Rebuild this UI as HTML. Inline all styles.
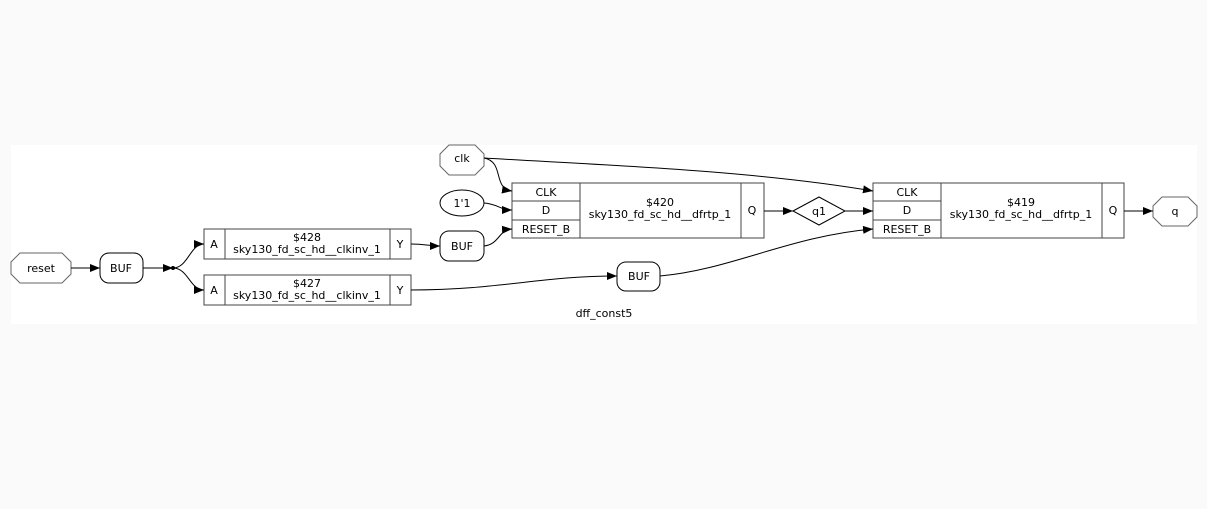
<!DOCTYPE html>
<html><head><style>
html,body{margin:0;padding:0;background:#fafafa;}
svg{display:block;font-family:"DejaVu Sans","Liberation Sans",sans-serif;}
text{font-size:11px;fill:#000;text-anchor:middle;}
</style></head><body>
<svg width="1207" height="509" viewBox="0 0 1207 509">
<defs><marker id="a" markerWidth="10" markerHeight="8" refX="10" refY="4" orient="auto" markerUnits="userSpaceOnUse"><path d="M0,0 L10,4 L0,8 z" fill="#000"/></marker></defs>
<rect x="11" y="145" width="1186" height="179" fill="#fff"/>
<g fill="none" stroke="#000" stroke-width="1">
<!-- reset octagon -->
<polygon points="20,253 62,253 71,262 71,274 62,283 20,283 11,274 11,262" stroke="#666"/>
<rect x="100" y="253" width="43" height="30" rx="9"/>
<!-- 428 -->
<rect x="204" y="229" width="207" height="30" stroke="#444"/>
<line x1="225" y1="229" x2="225" y2="259" stroke="#444"/>
<line x1="390" y1="229" x2="390" y2="259" stroke="#444"/>
<rect x="204" y="275" width="207" height="30" stroke="#444"/>
<line x1="225" y1="275" x2="225" y2="305" stroke="#444"/>
<line x1="390" y1="275" x2="390" y2="305" stroke="#444"/>
<rect x="440" y="231" width="44" height="30" rx="9"/>
<polygon points="449,145 475,145 484,154 484,166 475,175 449,175 440,166 440,154" stroke="#666"/>
<ellipse cx="462" cy="203" rx="22" ry="13"/>
<!-- 420 -->
<rect x="512" y="183" width="252" height="55" stroke="#444"/>
<line x1="580" y1="183" x2="580" y2="238" stroke="#444"/>
<line x1="741" y1="183" x2="741" y2="238" stroke="#444"/>
<line x1="512" y1="201" x2="580" y2="201" stroke="#444"/>
<line x1="512" y1="220" x2="580" y2="220" stroke="#444"/>
<polygon points="793,211 819,197 845,211 819,225"/>
<rect x="617" y="262" width="43" height="29" rx="9"/>
<!-- 419 -->
<rect x="873" y="183" width="251" height="55" stroke="#444"/>
<line x1="941" y1="183" x2="941" y2="238" stroke="#444"/>
<line x1="1102" y1="183" x2="1102" y2="238" stroke="#444"/>
<line x1="873" y1="201" x2="941" y2="201" stroke="#444"/>
<line x1="873" y1="220" x2="941" y2="220" stroke="#444"/>
<polygon points="1162,197 1188,197 1197,206 1197,217 1188,226 1162,226 1153,217 1153,206" stroke="#666"/>
<!-- edges -->
<path d="M71,268 L100,268" marker-end="url(#a)"/>
<path d="M143,268 L173,268" marker-end="url(#a)"/>
<path d="M173,268 C188,268 190,244 204,244" marker-end="url(#a)"/>
<path d="M173,268 C188,268 190,290 204,290" marker-end="url(#a)"/>
<path d="M411,244 C425,244 428,246 440,246" marker-end="url(#a)"/>
<path d="M411,290 C500,290 540,276 617,276" marker-end="url(#a)"/>
<path d="M484,158 C505,162 492,188 512,191" marker-end="url(#a)"/>
<path d="M484,203 C498,204 500,210 512,210" marker-end="url(#a)"/>
<path d="M484,246 C500,244 498,230 512,229" marker-end="url(#a)"/>
<path d="M484,158 C600,165 750,170 873,191" marker-end="url(#a)"/>
<path d="M764,211 L793,211" marker-end="url(#a)"/>
<path d="M845,211 L873,211" marker-end="url(#a)"/>
<path d="M660,276 C730,270 790,236 873,229" marker-end="url(#a)"/>
<path d="M1124,211 L1153,211" marker-end="url(#a)"/>
</g>
<circle cx="173" cy="268" r="2" fill="#000"/>
<text x="41" y="272">reset</text>
<text x="121" y="272">BUF</text>
<text x="214" y="248">A</text>
<text x="307" y="241">$428</text>
<text x="307" y="253">sky130_fd_sc_hd__clkinv_1</text>
<text x="400" y="248">Y</text>
<text x="214" y="294">A</text>
<text x="307" y="287">$427</text>
<text x="307" y="299">sky130_fd_sc_hd__clkinv_1</text>
<text x="400" y="294">Y</text>
<text x="462" y="250">BUF</text>
<text x="462" y="162">clk</text>
<text x="462" y="207">1'1</text>
<text x="546" y="196">CLK</text>
<text x="546" y="214">D</text>
<text x="546" y="233">RESET_B</text>
<text x="660" y="206">$420</text>
<text x="660" y="218">sky130_fd_sc_hd__dfrtp_1</text>
<text x="752" y="214">Q</text>
<text x="819" y="215">q1</text>
<text x="639" y="280">BUF</text>
<text x="907" y="196">CLK</text>
<text x="907" y="214">D</text>
<text x="907" y="233">RESET_B</text>
<text x="1021" y="206">$419</text>
<text x="1021" y="218">sky130_fd_sc_hd__dfrtp_1</text>
<text x="1113" y="214">Q</text>
<text x="1175" y="215">q</text>
<text x="604" y="317">dff_const5</text>
</svg>
</body></html>
